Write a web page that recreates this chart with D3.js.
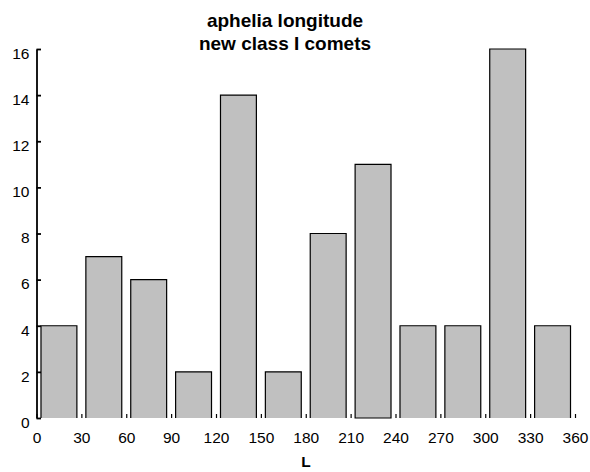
<!DOCTYPE html>
<html>
<head>
<meta charset="utf-8">
<script src="https://cdn.jsdelivr.net/npm/d3@7"></script>
<style>
  html, body { margin: 0; padding: 0; background: #fff; }
  svg { display: block; font-family: "Liberation Sans", Arial, sans-serif; }
</style>
</head>
<body>
<svg id="chart" width="590" height="472"></svg>
<script>
const binStarts = [0, 30, 60, 90, 120, 150, 180, 210, 240, 270, 300, 330];
const binWidth = 30;
const counts = [4, 7, 6, 2, 14, 2, 8, 11, 4, 4, 16, 4];
const bottomEdgeVisible = [false, false, false, false, false, false, false, true, false, false, false, false];
const xTicks = [0, 30, 60, 90, 120, 150, 180, 210, 240, 270, 300, 330, 360];
const yTicks = [0, 2, 4, 6, 8, 10, 12, 14, 16];
const titleLines = ["aphelia longitude", "new class I comets"];
const xLabel = "L";

const svg = d3.select("#chart");
const x = d3.scaleLinear().domain([0, 360]).range([36.5, 575]);
const y = d3.scaleLinear().domain([0, 16]).range([418, 49]);

const barFrac = 0.8;
const data = binStarts.map((s, i) => ({ s, v: counts[i], closed: bottomEdgeVisible[i] }));
const bx0 = d => x(d.s + binWidth * (1 - barFrac) / 2);
const bx1 = d => x(d.s + binWidth * (1 + barFrac) / 2);

// bars (fill)
svg.append("g").selectAll("rect").data(data).enter().append("rect")
  .attr("x", bx0)
  .attr("width", d => bx1(d) - bx0(d))
  .attr("y", d => y(d.v))
  .attr("height", d => y(0) - y(d.v))
  .attr("fill", "#c0c0c0");

// bar outlines (open bottom unless flagged)
svg.append("g").selectAll("path").data(data).enter().append("path")
  .attr("d", d => `M${bx0(d)},${y(0)}V${y(d.v)}H${bx1(d)}V${y(0)}` + (d.closed ? "Z" : ""))
  .attr("fill", "none")
  .attr("stroke", "#000")
  .attr("stroke-width", 1.2);

const tickFont = 15.5;

// y axis
const yAxis = d3.axisLeft(y).tickValues(yTicks).tickSizeInner(-4.5).tickSizeOuter(0).tickPadding(7);
const gy = svg.append("g").attr("transform", `translate(${x(0)},0)`).call(yAxis);
gy.select(".domain").attr("stroke-width", 1.8);
gy.selectAll(".tick line").attr("stroke-width", 1.8);
gy.selectAll("text").attr("font-size", tickFont)
  .attr("font-family", "Liberation Sans, Arial, sans-serif")
  .attr("dy", "0.6em").attr("fill", "#000");

// x axis
const xAxis = d3.axisBottom(x).tickValues(xTicks).tickSizeInner(-4).tickSizeOuter(0).tickPadding(14);
const gx = svg.append("g").attr("transform", `translate(0,${y(0)})`).call(xAxis);
gx.select(".domain").remove();
gx.selectAll(".tick line").attr("stroke-width", 1.2);
gx.selectAll("text").attr("font-size", tickFont)
  .attr("font-family", "Liberation Sans, Arial, sans-serif").attr("fill", "#000");

// x label
svg.append("text")
  .attr("x", 306).attr("y", 467)
  .attr("text-anchor", "middle")
  .attr("font-size", 15.5).attr("font-weight", "bold")
  .text(xLabel);

// title
svg.append("g").selectAll("text").data(titleLines).enter().append("text")
  .attr("x", 285).attr("y", (d, i) => 26.7 + i * 23.3)
  .attr("text-anchor", "middle")
  .attr("font-size", 19).attr("font-weight", "bold")
  .text(d => d);
</script>
</body>
</html>
